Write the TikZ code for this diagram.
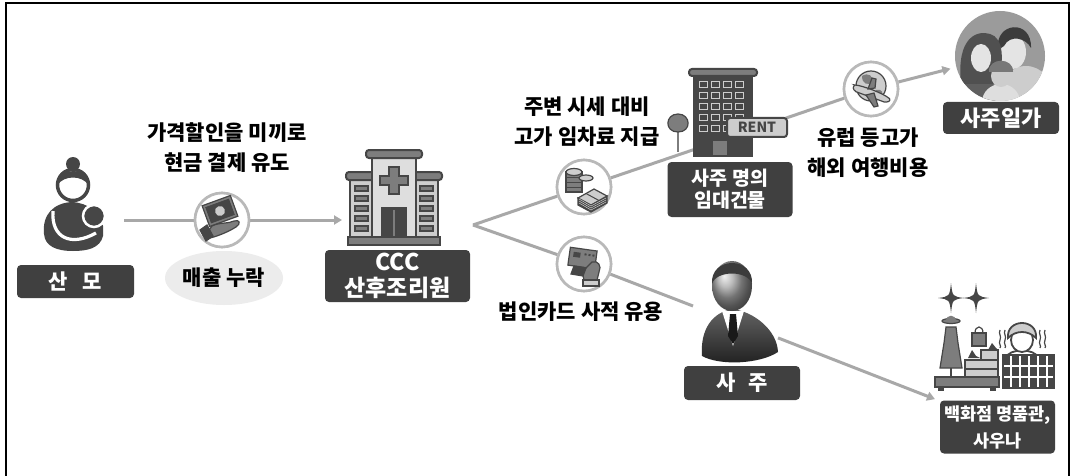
\documentclass[tikz,border=0pt]{standalone}
\usepackage{fontspec}
\setmainfont{Noto Sans CJK KR}
\usetikzlibrary{arrows.meta,shapes.geometric,calc}
\definecolor{labelbg}{RGB}{64,64,64}
\definecolor{linegray}{RGB}{168,168,168}
\definecolor{ringgray}{RGB}{185,185,185}
\definecolor{icondark}{RGB}{70,70,70}
\definecolor{iconmid}{RGB}{125,125,125}
\definecolor{iconlight}{RGB}{205,205,205}
\definecolor{pillbg}{RGB}{236,236,236}
\definecolor{gA}{RGB}{25,25,25}
\definecolor{gB}{RGB}{30,30,30}
\definecolor{gC}{RGB}{60,60,60}
\definecolor{gD}{RGB}{80,80,80}
\definecolor{gE}{RGB}{95,95,95}
\definecolor{gF}{RGB}{100,100,100}
\definecolor{gH}{RGB}{120,120,120}
\definecolor{gJ}{RGB}{155,155,155}
\definecolor{gK}{RGB}{165,165,165}
\definecolor{gN}{RGB}{205,205,205}
\definecolor{gO}{RGB}{222,222,222}
\definecolor{gP}{RGB}{228,228,228}
\tikzset{
  lbl/.style={fill=labelbg, text=white, rounded corners=4pt, inner sep=0pt, align=center,
    font=\fontsize{22}{26}\selectfont\bfseries},
  conn/.style={draw=linegray, line width=3pt},
  tip/.style={-{Triangle[length=8pt,width=9pt]}},
  ring/.style={circle, draw=ringgray, line width=2.6pt, fill=white, minimum size=54pt, inner sep=0pt},
  caption/.style={align=center, text=black, font=\fontsize{21}{30}\selectfont\bfseries},
  anchorbox/.style={inner sep=0pt, outer sep=0pt},
  ln/.style={draw=icondark, line width=1.2pt},
}
\newcommand\lxsparkle[2]{%
  \fill[icondark] ({#1},{#2-15}) .. controls ({#1+1.5},{#2-1.5}) .. ({#1+13},{#2})
    .. controls ({#1+1.5},{#2+1.5}) .. ({#1},{#2+15})
    .. controls ({#1-1.5},{#2+1.5}) .. ({#1-13},{#2})
    .. controls ({#1-1.5},{#2-1.5}) .. cycle;}
\begin{document}
\begin{tikzpicture}[x=1pt,y=-1pt]
\useasboundingbox (0,0) rectangle (1073,476);
\fill[white] (0,0) rectangle (1073,476);
% frame
\draw[black, line width=2.6pt] (6,476) -- (6,3) -- (1069,3) -- (1069,476);

% ---------- anchor nodes for the pictures ----------
\node[anchorbox, minimum width=98pt, minimum height=95pt] (mom) at (75,200) {};
\node[anchorbox, minimum width=102pt, minimum height=95pt] (hosp) at (393,197) {};
\coordinate (fork) at (473,225);
\node[anchorbox] (rent) at (722,140) {};
\node[anchorbox] (boss) at (693,306) {};
\node[anchorbox, minimum width=20pt, minimum height=20pt] (bossR) at (768,334) {};
\node[anchorbox, minimum width=30pt, minimum height=30pt] (lux) at (950,405) {};

% ---------- rings on the connectors ----------
\node[ring] (cash) at (222,220) {};
\node[ring] (coins) at (584,187) {};
\node[ring] (card) at (584,264) {};
\node[ring] (globe) at (871,89) {};
\node[circle, fill=gJ, minimum size=90pt, inner sep=0pt] (family) at (1000,56) {};

% ---------- connectors ----------
\draw[conn] (mom.east |- cash) -- (cash);
\draw[conn,tip] (cash) -- (cash -| hosp.west);
\draw[conn] (fork) -- (coins);
\draw[conn] (coins) -- (rent.center) -- (globe);
\draw[conn,tip,shorten >=6pt] (globe) -- (family);
\draw[conn] (fork) -- (card);
\draw[conn] (card) -- (boss.center);
\draw[conn,tip] (bossR) -- (lux);

% rings on top of the lines
\node[ring] at (cash) {};
\node[ring] at (coins) {};
\node[ring] at (card) {};
\node[ring] at (globe) {};

% ---------- mother with infant ----------
\fill[icondark] (44,234) .. controls (42,214) and (54,203) .. (72,202)
  .. controls (88,203) and (100,212) .. (103,226) -- (103,236)
  .. controls (100,248) and (88,251) .. (73,251) .. controls (56,251) and (45,246) .. cycle;
\draw[white, line width=3.2pt] (53,211) .. controls (51,238) and (71,247) .. (96,233);
\draw[white, line width=2.5pt, fill=icondark] (94,216) circle (11);
\draw[icondark, line width=3.5pt, fill=white] (73,185) circle (15.5);
\fill[icondark] (57.5,185) .. controls (55,167) and (91,166) .. (88.5,185)
  .. controls (82,175) and (64,175) .. cycle;
\fill[icondark] (73,164) circle (7);

% ---------- cash in hand ----------
\begin{scope}[rotate around={20:(220,211)}]
  \draw[ln, fill=iconmid] (205,200) rectangle (235,222);
  \draw[ln, fill=icondark] (208,203) rectangle (232,219);
  \fill[iconlight] (220,211) circle (5);
\end{scope}
\draw[ln, fill=iconmid] (206,234) -- (212,226) .. controls (220,222) and (228,224) .. (234,221)
  .. controls (240,219) and (241,224) .. (236,227) .. controls (228,232) and (218,236) .. (210,238) -- cycle;
\draw[ln, fill=icondark] (200,230) -- (207,225) -- (213,236) -- (206,241) -- cycle;

% ---------- hospital ----------
\draw[ln, line width=2pt, fill=iconlight] (350,178) rectangle (372,243);
\draw[ln, line width=2pt, fill=iconlight] (416,178) rectangle (438,243);
\draw[ln, line width=2pt, fill=iconmid, rounded corners=3pt] (346,172) rectangle (376,180);
\draw[ln, line width=2pt, fill=iconmid, rounded corners=3pt] (412,172) rectangle (442,180);
\foreach \yy in {186,196,206,216,226} {
  \draw[ln, fill=iconmid] (355,\yy) rectangle (368,\yy+5);
  \draw[ln, fill=iconmid] (420,\yy) rectangle (433,\yy+5);
}
\draw[ln, line width=2pt, fill=gO] (372,157) rectangle (416,243);
\draw[ln, line width=2pt, fill=iconmid, rounded corners=3pt] (366,150) rectangle (422,158);
\draw[ln, line width=1.6pt, fill=iconmid] (389,167) -- (399,167) -- (399,176) -- (408,176) -- (408,185)
  -- (399,185) -- (399,194) -- (389,194) -- (389,185) -- (380,185) -- (380,176) -- (389,176) -- cycle;
\draw[ln, line width=2pt, fill=icondark] (382,208) rectangle (406,241);
\draw[iconmid, line width=1.4pt] (394,210) -- (394,240);
\draw[ln, line width=2pt, fill=iconmid] (348,237) rectangle (440,245);

% ---------- coins and bundles ----------
\draw[ln, fill=iconmid] (566,172) rectangle (582,192);
\foreach \yy in {177,182,187} \draw[icondark, line width=0.8pt] (566,\yy) -- (582,\yy);
\draw[ln, fill=iconlight] (574,172) ellipse (8 and 3.5);
\draw[ln, fill=iconlight] (586,178) ellipse (7 and 3);
\draw[ln, fill=icondark] (578,198) -- (578,205) -- (591,212) -- (607,203) -- (607,196) -- (591,205) -- cycle;
\draw[ln, fill=iconlight] (578,198) -- (594,189) -- (607,196) -- (591,205) -- cycle;
\draw[icondark, line width=1pt] (586,193.5) -- (599,200.5);
\foreach \dd in {1,3,5} \draw[iconlight, line width=0.5pt] (579,198+\dd) -- (591,205+\dd) -- (606,197+\dd);

% ---------- corporate card ----------
\begin{scope}[rotate around={-8:(582,258)}]
  \draw[ln, fill=iconmid] (569,249) rectangle (596,267);
  \fill[icondark] (573,253) rectangle (580,258);
  \foreach \xx in {584,588,592} \fill[icondark] (\xx,253) rectangle (\xx+2,255);
\end{scope}
\draw[ln, fill=iconmid] (582,272) -- (592,262) .. controls (598,260) and (602,266) .. (599,272) -- (597,280) -- (584,280) -- cycle;
\draw[ln, fill=iconlight] (583,280) rectangle (599,286);
\draw[ln, fill=icondark] (574,266) -- (586,268) -- (583,276) -- (571,274) -- cycle;

% ---------- building for rent ----------
\draw[iconmid, line width=2.4pt] (678,128) -- (678,152);
\draw[ln, fill=iconmid] (678,132) .. controls (664,132) and (665,114) .. (678,114)
  .. controls (691,114) and (692,132) .. (678,132) -- cycle;
\draw[ln, line width=2pt, fill=icondark] (694,76) rectangle (752,156);
\draw[ln, line width=2pt, fill=iconmid, rounded corners=3pt] (689,69) rectangle (757,76);
\foreach \yy in {82,93,104,115,126} {
  \foreach \xx in {699,711,723,735} {
    \draw[iconlight, line width=1pt] (\xx,\yy) rectangle (\xx+8,\yy+6);
  }
}
\draw[ln, line width=1.5pt, fill=iconmid] (712,140) rectangle (728,156);
\draw[ln, line width=2pt, fill=iconlight, rounded corners=3pt] (727,118) rectangle (787,137);
\node[font=\fontsize{14}{14}\selectfont\bfseries, text=icondark] at (757,127.5) {RENT};

% ---------- globe with airplane ----------
\draw[ln, fill=iconlight] (871,86) circle (15);
\fill[iconmid] (862,76) .. controls (868,72) and (874,76) .. (872,82) .. controls (868,86) and (862,84) .. cycle;
\fill[iconmid] (876,90) .. controls (882,88) and (885,94) .. (880,98) .. controls (876,98) and (874,94) .. cycle;
\draw[ln, fill=iconlight, rotate around={-20:(871,94)}] (853,91) .. controls (860,89) and (882,89) .. (890,92)
  .. controls (892,94) and (890,96) .. (886,97) -- (856,97) .. controls (852,96) and (851,93) .. cycle;
\draw[ln, fill=iconmid] (866,95) -- (874,107) -- (878,106) -- (874,93) -- cycle;
\draw[ln, fill=iconmid] (868,89) -- (872,78) -- (876,79) -- (875,88) -- cycle;

% ---------- owner's family ----------
\begin{scope}
  \clip (1000,56) circle (45);
  % father
  \fill[gN] (1026,98) ellipse (28 and 32);
  \fill[gP] (1013,52) ellipse (13 and 17);
  \fill[gC] (998,50) .. controls (994,22) and (1032,18) .. (1031,48)
     .. controls (1026,38) and (1010,34) .. (1004,46) -- cycle;
  % mother
  \fill[gE] (975,104) ellipse (27 and 27);
  \fill[gD] (961,84) .. controls (956,36) and (978,30) .. (990,34)
     .. controls (1004,38) and (1004,60) .. (998,84) -- cycle;
  \fill[gP] (981,58) ellipse (10 and 14);
  % child
  \fill[gO] (1001,102) ellipse (19 and 18);
  \fill[gN] (1001,76) ellipse (10 and 11);
  \fill[gH] (989,72) .. controls (988,57) and (1014,57) .. (1013,72) -- cycle;
\end{scope}

% ---------- business owner ----------
\shade[top color=gF, bottom color=gB]
  (702,356) .. controls (700,330) and (712,312) .. (733,309) .. controls (754,312) and (777,330) .. (778,352)
  .. controls (760,364) and (720,366) .. cycle;
\fill[white] (722,311) -- (733,346) -- (744,311) -- cycle;
\fill[gA] (730,314) -- (736,314) -- (738,336) -- (733,344) -- (728,336) -- cycle;
\shade[ball color=gK] (732,286) ellipse (20 and 25);
\fill[gC] (712,284) .. controls (710,256) and (754,256) .. (752,284)
  .. controls (748,270) and (716,270) .. cycle;

% ---------- department store and sauna ----------
\lxsparkle{951}{298}
\lxsparkle{976}{298}
\draw[ln, fill=iconmid] (951,321) ellipse (9 and 2.5);
\fill[iconmid] (946,321) .. controls (946,314) and (956,314) .. (956,321) -- cycle;
\draw[ln, fill=iconmid] (946,327) -- (956,327) -- (958,343) -- (962,368) -- (940,368) -- (944,343) -- cycle;
\draw[icondark, line width=1.5pt] (951,368) -- (951,377);
\draw[ln, fill=iconmid] (972,333) rectangle (986,346);
\draw[ln] (975,333) .. controls (975,325) and (983,325) .. (983,333);
\draw[ln, fill=iconlight] (965,360) rectangle (998,378);
\draw[ln] (965,369) -- (998,369);
\draw[ln, fill=iconlight] (981,350) rectangle (998,360);
\fill[icondark] (968,358) -- (972,350) -- (976,356) -- (980,358) -- cycle;
\fill[icondark] (988,350) -- (992,343) -- (996,348) -- (998,350) -- cycle;
\draw[ln, fill=iconmid] (935,377) rectangle (999,387);
\fill[icondark] (938,387) rectangle (944,391);
\fill[icondark] (990,387) rectangle (996,391);
% sauna
\draw[ln, line width=1.8pt] (1006,358) .. controls (1008,348) and (1036,348) .. (1038,358);
\draw[ln, line width=1.8pt, fill=white] (1022,340) ellipse (11 and 12);
\draw[ln, line width=1.8pt, fill=iconlight] (1008,338) .. controls (1006,318) and (1038,318) .. (1036,338)
  .. controls (1028,330) and (1016,330) .. cycle;
\foreach \xx in {1000,1005,1040,1045} {
  \draw[icondark, line width=1.2pt] (\xx,330) .. controls (\xx-2,334) and (\xx+2,336) .. (\xx,340)
    .. controls (\xx-2,344) and (\xx+2,346) .. (\xx,348);
}
\fill[icondark] (1002,354) rectangle (1055,389);
\foreach \xx in {1011,1020,1029,1038,1047} \draw[white, line width=1.3pt] (\xx,356) -- (\xx,387);
\foreach \yy in {366,377} \draw[white, line width=1.3pt] (1004,\yy) -- (1053,\yy);

% ---------- labels ----------
\node[lbl, minimum width=117pt, minimum height=33pt, font=\fontsize{21}{26}\selectfont\bfseries] (momlbl) at (75.5,281.5) {산\hspace{0.7em}모};
\node[lbl, minimum width=145pt, minimum height=52pt, font=\fontsize{23}{26}\selectfont\bfseries] (hosplbl) at (397.5,276) {CCC\\산후조리원};
\node[lbl, minimum width=125pt, minimum height=55pt, font=\fontsize{19.5}{22}\selectfont\bfseries] (rentlbl) at (730,189.5) {사주 명의\\임대건물};
\node[lbl, minimum width=116pt, minimum height=32pt, font=\fontsize{22}{26}\selectfont\bfseries] (famlbl) at (1001,118) {사주일가};
\node[lbl, minimum width=116pt, minimum height=34pt, font=\fontsize{21}{26}\selectfont\bfseries] (bosslbl) at (742,383) {사\hspace{0.6em}주};
\node[lbl, minimum width=115pt, minimum height=53pt, font=\fontsize{17.5}{27}\selectfont\bfseries] (luxlbl) at (997.5,427) {백화점 명품관,\\사우나};

% ---------- captions ----------
\node[caption] (c1) at (227,148) {가격할인을 미끼로\\현금 결제 유도};
\node[ellipse, fill=pillbg, minimum width=118pt, minimum height=54pt, inner sep=0pt,
  font=\fontsize{21}{24}\selectfont\bfseries] (leak) at (224,278) {매출 누락};
\node[caption] (c2) at (587,122) {주변 시세 대비\\고가 임차료 지급};
\node[caption] (c3) at (868,153) {유럽 등고가\\해외 여행비용};
\node[caption] (c4) at (581,312) {법인카드 사적 유용};
\end{tikzpicture}
\end{document}
